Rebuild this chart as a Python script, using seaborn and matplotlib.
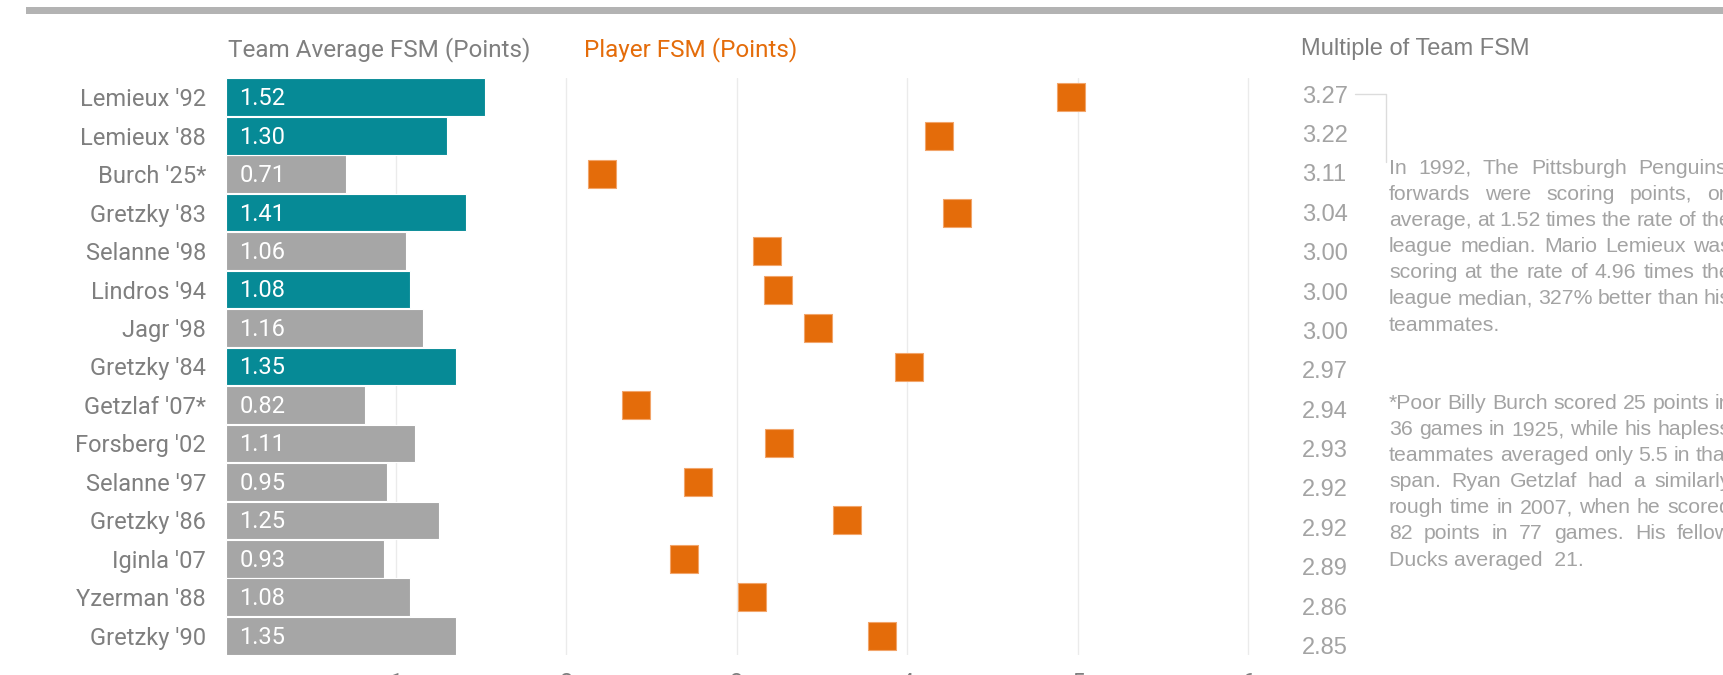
import matplotlib
matplotlib.use("Agg")
import matplotlib.pyplot as plt
import seaborn as sns
import pandas as pd
from matplotlib.patches import Rectangle
from matplotlib.lines import Line2D

# ---------------- data ----------------
players = ["Lemieux '92", "Lemieux '88", "Burch '25*", "Gretzky '83", "Selanne '98",
           "Lindros '94", "Jagr '98", "Gretzky '84", "Getzlaf '07*", "Forsberg '02",
           "Selanne '97", "Gretzky '86", "Iginla '07", "Yzerman '88", "Gretzky '90"]
team_fsm = [1.52, 1.30, 0.71, 1.41, 1.06, 1.08, 1.16, 1.35, 0.82, 1.11, 0.95, 1.25, 0.93, 1.08, 1.35]
player_fsm = [4.96, 4.19, 2.21, 4.29, 3.18, 3.24, 3.48, 4.01, 2.41, 3.25, 2.77, 3.65, 2.69, 3.09, 3.85]
multiples = [3.27, 3.22, 3.11, 3.04, 3.00, 3.00, 3.00, 2.97, 2.94, 2.93, 2.92, 2.92, 2.89, 2.86, 2.85]
highlighted = [True, True, False, True, False, True, False, True, False, False, False, False, False, False, False]
x_ticks = [1, 2, 3, 4, 5, 6]

para1 = ["In 1992, The Pittsburgh Penguins'",
         "forwards were scoring points, on",
         "average, at 1.52 times the rate of the",
         "league median.  Mario Lemieux was",
         "scoring at the rate of 4.96 times the",
         "league median, 327% better than his",
         "teammates."]
para2 = ["*Poor Billy Burch scored 25 points in",
         "36 games in 1925, while his hapless",
         "teammates averaged only 5.5 in that",
         "span.  Ryan Getzlaf had a similarly",
         "rough time in 2007, when he scored",
         "82 points in 77 games.  His fellow",
         "Ducks averaged  21."]

TEAL = "#068A96"
GRAY = "#A6A6A6"
ORANGE = "#E46C0A"
LABEL = "#7F7F7F"
LIGHT = "#A3A3A3"

df = pd.DataFrame({"player": players, "team": team_fsm, "player_fsm": player_fsm,
                   "hl": highlighted})

sns.set_theme(style="white")
plt.rcParams["font.family"] = ["Roboto", "DejaVu Sans"]

W, H = 1723, 675
fig = plt.figure(figsize=(W / 100, H / 100), dpi=100)

def fx(px):
    return px / W

def fy(py):
    return 1 - py / H

# main axes
ax_left, ax_right, ax_top, ax_bot = 225.5, 225.5 + 6.02 * 170.4, 78.0, 655.0
ax = fig.add_axes([fx(ax_left), fy(ax_bot), fx(ax_right - ax_left), (ax_bot - ax_top) / H])

sns.barplot(data=df, y="player", x="team", hue="hl", order=players,
            palette={True: TEAL, False: GRAY}, dodge=False, legend=False, saturation=1,
            width=0.98, orient="h", edgecolor="white", linewidth=0.8, ax=ax, zorder=2)
sns.stripplot(data=df, y="player", x="player_fsm", order=players, jitter=False,
              marker="s", size=20.5, color=ORANGE, edgecolor="#F2A56B", linewidth=0.8,
              orient="h", ax=ax, zorder=3)

for i, v in enumerate(team_fsm):
    ax.annotate(f"{v:.2f}", (0, i), xytext=(10, -1), textcoords="offset points",
                ha="left", va="center", color="white", fontsize=17, zorder=4)

ax.set_xlim(0, 6.02)
ax.set_ylim(14.5, -0.5)
ax.set_xticks(x_ticks)
ax.set_xticklabels([str(t) for t in x_ticks])
ax.xaxis.grid(True, color="#EBEBEB", linewidth=1.0, zorder=0)
ax.set_axisbelow(True)
ax.yaxis.grid(False)
for s in ax.spines.values():
    s.set_visible(False)
ax.tick_params(axis="y", length=0, pad=14, labelsize=17, labelcolor=LABEL)
ax.tick_params(axis="x", length=0, pad=12, labelsize=17, labelcolor=LABEL)
ax.set_xlabel("")
ax.set_ylabel("")

# titles
fig.text(fx(228.5), fy(50), "Team Average FSM (Points)", color=LABEL, fontsize=17.5,
         ha="left", va="center")
fig.text(fx(584), fy(50), "Player FSM (Points)", color=ORANGE, fontsize=17.5,
         ha="left", va="center")
fig.text(fx(1300.7), fy(49.5), "Multiple of Team FSM", color=LABEL, fontsize=17,
         ha="left", va="center", family=["Liberation Sans", "DejaVu Sans"])

# multiples column
m_top, m_bot = 77.0, 667.7
ax2 = fig.add_axes([fx(1302), fy(m_bot), fx(50), (m_bot - m_top) / H])
ax2.set_xlim(0, 1)
ax2.set_ylim(14.5, -0.5)
ax2.axis("off")
for i, m in enumerate(multiples):
    ax2.text(0, i, f"{m:.2f}", color=LIGHT, fontsize=17, ha="left", va="center",
             family=["Liberation Sans", "DejaVu Sans"])

# connector line
fig.add_artist(Line2D([fx(1355), fx(1386), fx(1386)], [fy(94), fy(94), fy(162)],
                      color="#DCDCDC", linewidth=1.0))

# top gray band
fig.add_artist(Rectangle((fx(25.8), fy(14.3)), 1 - fx(25.8), 7.6 / H,
                         transform=fig.transFigure, color="#B3B3B3", lw=0))

# justified annotation text
renderer = fig.canvas.get_renderer()
x0, x1 = 1389.0, 1731.0
fkw = dict(color=LIGHT, fontsize=15.3, family=["Liberation Sans", "DejaVu Sans"],
           ha="left", va="baseline")

def width_of(word):
    t = fig.text(0, 0, word, **fkw)
    w = t.get_window_extent(renderer).width
    t.remove()
    return w

def draw_para(lines, base_y):
    for k, line in enumerate(lines):
        y = base_y + 26.1 * k
        last = (k == len(lines) - 1)
        if last:
            fig.text(fx(x0), fy(y), line, **fkw)
            continue
        words = line.split()
        ws = [width_of(w) for w in words]
        gap = (x1 - x0 - sum(ws)) / max(len(words) - 1, 1)
        x = x0
        for w, wd in zip(words, ws):
            fig.text(fx(x), fy(y), w, **fkw)
            x += wd + gap

draw_para(para1, 174.0)
draw_para(para2, 174.0 + 26.1 * 9)

fig.savefig("out.png", dpi=100)
